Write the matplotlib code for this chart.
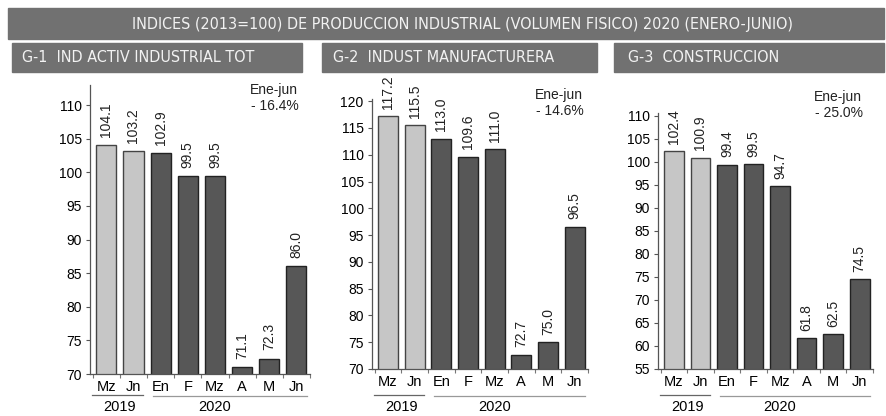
import matplotlib.pyplot as plt
from matplotlib.patches import Rectangle
from matplotlib.transforms import blended_transform_factory

W, H = 886, 416

months = ["Mz", "Jn", "En", "F", "Mz", "A", "M", "Jn"]
years = ["2019", "2020"]
n_2019 = 2

ind_total = [104.1, 103.2, 102.9, 99.5, 99.5, 71.1, 72.3, 86.0]
manufactura = [117.2, 115.5, 113.0, 109.6, 111.0, 72.7, 75.0, 96.5]
construccion = [102.4, 100.9, 99.4, 99.5, 94.7, 61.8, 62.5, 74.5]

titles = ["G-1  IND ACTIV INDUSTRIAL TOT", "G-2  INDUST MANUFACTURERA", "G-3  CONSTRUCCION"]
variations = ["- 16.4%", "- 14.6%", "- 25.0%"]
main_title = "INDICES (2013=100) DE PRODUCCION INDUSTRIAL (VOLUMEN FISICO) 2020 (ENERO-JUNIO)"

LIGHT = "#c6c6c6"
DARK = "#575757"
BAND = "#717171"

plt.rcParams['font.family'] = ['Liberation Sans', 'DejaVu Sans']
NARROW = ['DejaVu Sans']


def fx(px):
    return px / W


def fy(py):
    return 1 - py / H


fig = plt.figure(figsize=(W / 100, H / 100), dpi=100)
fig.patch.set_facecolor("white")

# header bands
fig.patches.append(Rectangle((fx(8), fy(39)), fx(884) - fx(8), fy(8) - fy(39),
                             transform=fig.transFigure, color=BAND, zorder=0))
fig.text(fx(462), fy(24), main_title, ha="center", va="center", color="#f2f2f2",
         fontsize=11.5, family=NARROW, fontstretch="condensed")

boxes = [(12, 302, 22), (322, 597, 333), (614, 884, 628)]
for (x0, x1, tx), t in zip(boxes, titles):
    fig.patches.append(Rectangle((fx(x0), fy(72)), fx(x1) - fx(x0), fy(43) - fy(72),
                                 transform=fig.transFigure, color=BAND, zorder=0))
    fig.text(fx(tx), fy(58), t, ha="left", va="center", color="#f2f2f2",
             fontsize=11.5, family=NARROW, fontstretch="condensed")

# panel layout: left, right, bottom, top (pixels), ylim, yticks, note position
panels = [
    dict(vals=ind_total, box=(90, 310, 374, 85), ylim=(70, 113), ticks=range(70, 111, 5),
         note=(250, 90)),
    dict(vals=manufactura, box=(372, 588, 369, 99), ylim=(70, 120.4), ticks=range(70, 121, 5),
         note=(535, 95)),
    dict(vals=construccion, box=(658, 873, 369, 113), ylim=(55, 110.6), ticks=range(55, 111, 5),
         note=(814, 97)),
]

x = list(range(len(months)))
colors = [LIGHT] * n_2019 + [DARK] * (len(months) - n_2019)
edges = ["#444444"] * n_2019 + ["#222222"] * (len(months) - n_2019)

for p, var in zip(panels, variations):
    l, r, b, t = p["box"]
    ax = fig.add_axes([fx(l), fy(b), fx(r) - fx(l), fy(t) - fy(b)])
    ax.bar(x, p["vals"], width=0.74, color=colors, edgecolor=edges, linewidth=1.0,
           bottom=0)
    ax.set_xlim(-0.6, 7.5)
    ax.set_ylim(*p["ylim"])
    ax.set_yticks(list(p["ticks"]))
    ax.tick_params(axis="y", labelsize=10, length=3, width=0.8, color="#555555", pad=3)
    ax.set_xticks(x)
    ax.set_xticklabels(months, fontsize=10.5)
    ax.tick_params(axis="x", length=0, pad=4)
    ax.set_xticks([i + 0.5 for i in range(-1, len(months))], minor=True)
    ax.tick_params(axis="x", which="minor", length=3, width=0.8, color="#777777")
    for s in ["top", "right"]:
        ax.spines[s].set_visible(False)
    for s in ["left", "bottom"]:
        ax.spines[s].set_color("#555555")
        ax.spines[s].set_linewidth(0.9)

    span = p["ylim"][1] - p["ylim"][0]
    for xi, v in zip(x, p["vals"]):
        ax.text(xi, v + span * 0.028, f"{v:.1f}", rotation=90, ha="center", va="bottom",
                fontsize=10, color="#222222", clip_on=False)

    nx, ny = p["note"]
    fig.text(fx(nx), fy(ny), "Ene-jun", ha="left", va="center", fontsize=10, color="#222222")
    fig.text(fx(nx + 1), fy(ny + 16), var, ha="left", va="center", fontsize=10, color="#222222")

    tr = blended_transform_factory(ax.transData, fig.transFigure)
    ax.plot([-0.53, 1.35], [fy(395)] * 2, color="#666666", lw=0.9, transform=tr, clip_on=False)
    ax.plot([1.72, 7.4], [fy(396)] * 2, color="#999999", lw=0.9, transform=tr, clip_on=False)
    ax.text(0.5, fy(407), years[0], ha="center", va="center", fontsize=10.5, transform=tr)
    ax.text(4.0, fy(407), years[1], ha="center", va="center", fontsize=10.5, transform=tr)

fig.savefig("out.png", dpi=100)
